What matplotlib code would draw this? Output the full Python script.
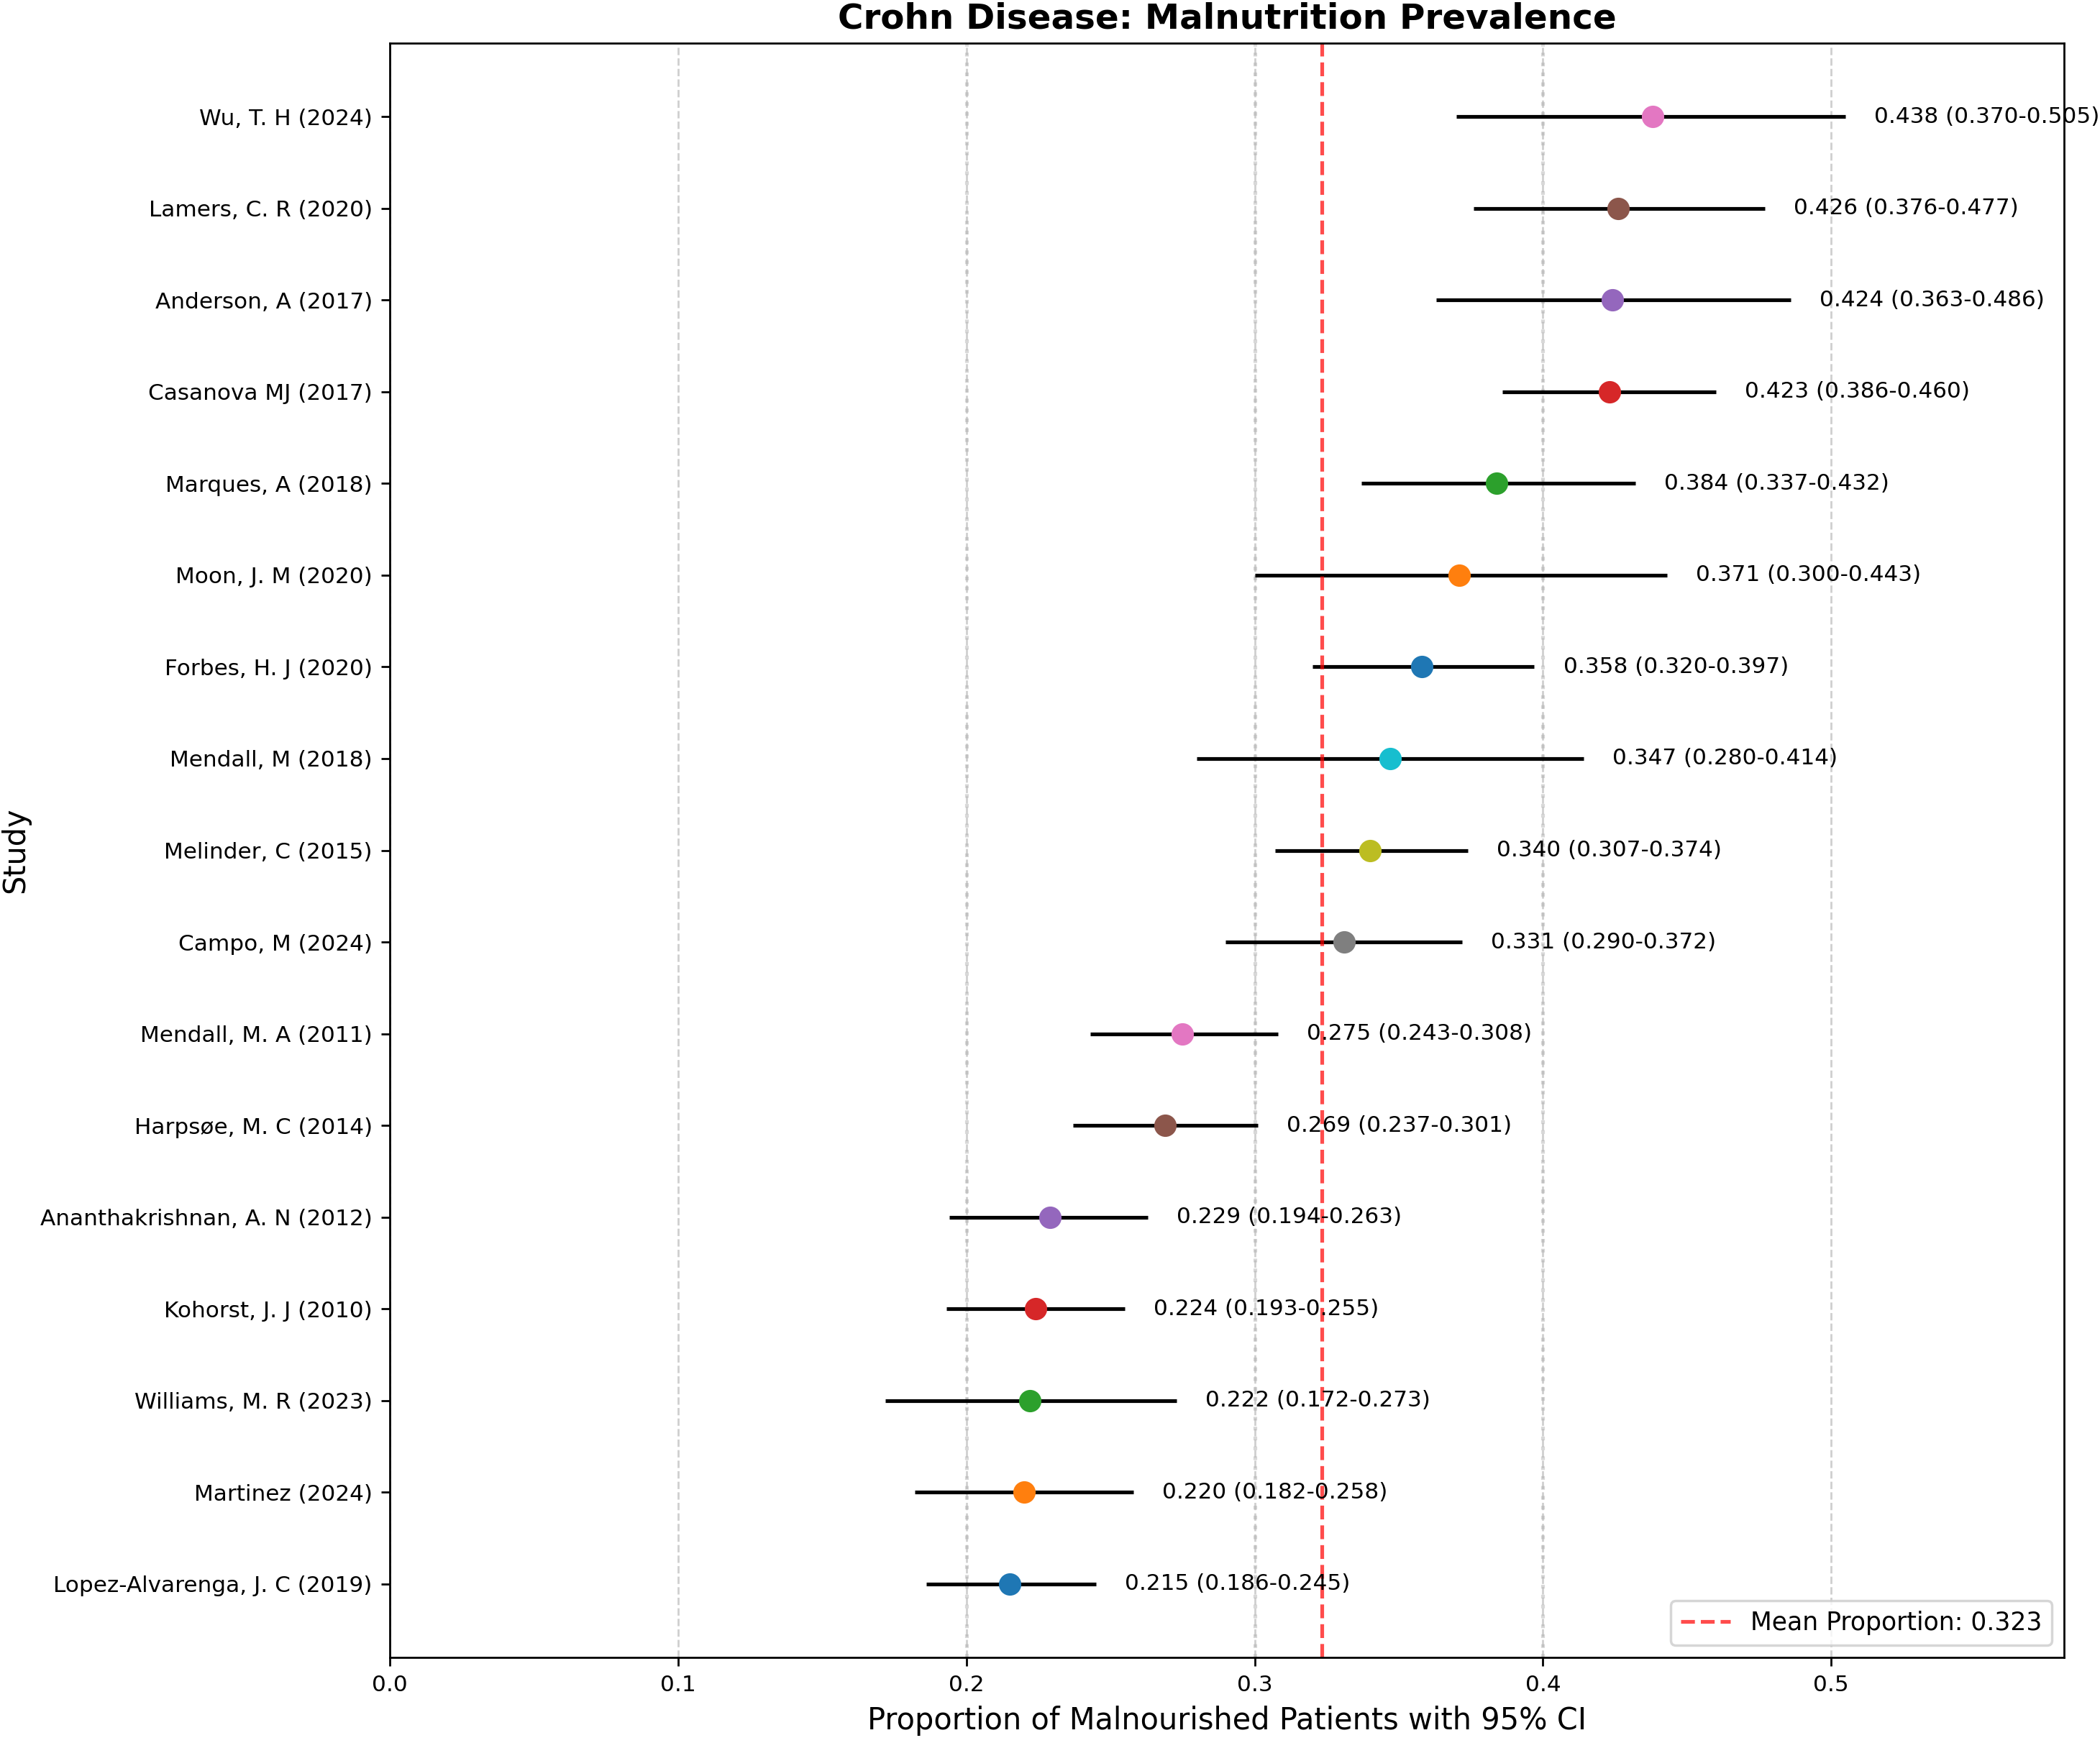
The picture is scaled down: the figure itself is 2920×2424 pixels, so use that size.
import matplotlib
matplotlib.use('Agg')
import matplotlib.pyplot as plt

# studies listed bottom -> top
studies = ["Lopez-Alvarenga, J. C (2019)", "Martinez (2024)", "Williams, M. R (2023)",
           "Kohorst, J. J (2010)", "Ananthakrishnan, A. N (2012)", "Harpsøe, M. C (2014)",
           "Mendall, M. A (2011)", "Campo, M (2024)", "Melinder, C (2015)",
           "Mendall, M (2018)", "Forbes, H. J (2020)", "Moon, J. M (2020)",
           "Marques, A (2018)", "Casanova MJ (2017)", "Anderson, A (2017)",
           "Lamers, C. R (2020)", "Wu, T. H (2024)"]
prop = [0.215, 0.220, 0.222, 0.224, 0.229, 0.269, 0.275, 0.331, 0.340,
        0.347, 0.358, 0.371, 0.384, 0.423, 0.424, 0.426, 0.438]
ci_low = [0.186, 0.182, 0.172, 0.193, 0.194, 0.237, 0.243, 0.290, 0.307,
          0.280, 0.320, 0.300, 0.337, 0.386, 0.363, 0.376, 0.370]
ci_high = [0.245, 0.258, 0.273, 0.255, 0.263, 0.301, 0.308, 0.372, 0.374,
           0.414, 0.397, 0.443, 0.432, 0.460, 0.486, 0.477, 0.505]

DPI = 249
fig, ax = plt.subplots(figsize=(2920 / DPI, 2424 / DPI), dpi=DPI)
fig.subplots_adjust(left=542 / 2920, right=2870 / 2920,
                    top=1 - 60 / 2424, bottom=1 - 2305 / 2424)

for i, (p, lo, hi) in enumerate(zip(prop, ci_low, ci_high)):
    ax.errorbar(p, i, xerr=[[p - lo], [hi - p]], fmt='o', ecolor='black',
                elinewidth=1.5, markersize=8, capsize=0)
    ax.text(hi + 0.01, i, f"{p:.3f} ({lo:.3f}-{hi:.3f})", va='center', fontsize=9)

mean_p = sum(prop) / len(prop)
ax.axvline(mean_p, color='red', linestyle='--', linewidth=1.5, alpha=0.7,
           label=f"Mean Proportion: {mean_p:.3f}")

for x in [0.2, 0.3, 0.4]:
    ax.axvline(x, color='gray', linestyle=':', alpha=0.3, zorder=0.5)

ax.set_yticks(range(len(studies)))
ax.set_yticklabels(studies, fontsize=9)
ax.set_xlim(0, max(ci_high) * 1.15)
ax.tick_params(axis='x', labelsize=9)
ax.grid(axis='x', linestyle='--', alpha=0.6)
ax.set_axisbelow(True)

ax.set_xlabel("Proportion of Malnourished Patients with 95% CI", fontsize=12)
ax.set_ylabel("Study", fontsize=12)
ax.set_title("Crohn Disease: Malnutrition Prevalence", fontsize=14, fontweight='bold')
ax.legend(loc='lower right', fontsize=10)

fig.savefig("out.png", dpi=DPI)
